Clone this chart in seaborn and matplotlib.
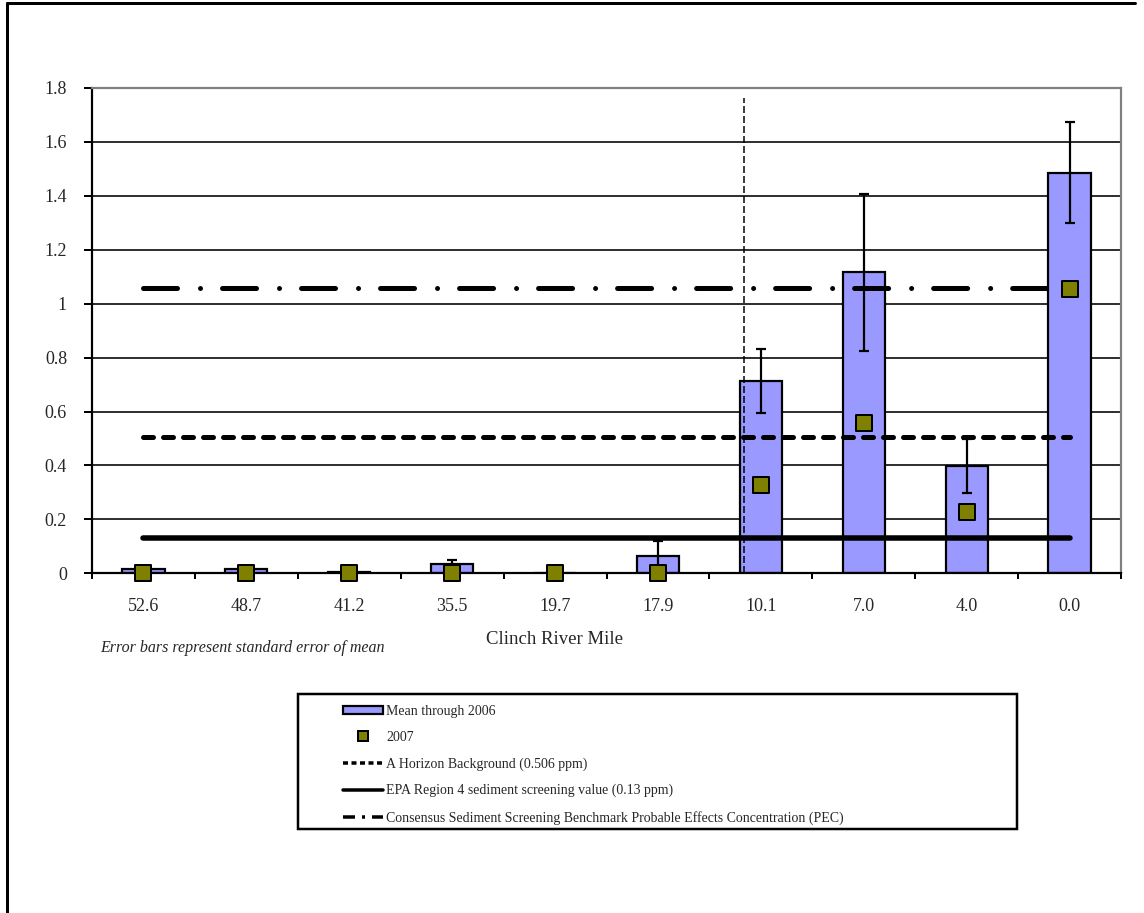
import numpy as np
import pandas as pd
import matplotlib
matplotlib.use("Agg")
import matplotlib.pyplot as plt
from matplotlib.lines import Line2D
from matplotlib.patches import Rectangle
from matplotlib.collections import PathCollection
import seaborn as sns

# Clinch River mile stations, upstream to downstream
river_miles = ["52.6", "48.7", "41.2", "35.5", "19.7", "17.9", "10.1", "7.0", "4.0", "0.0"]
# Mean concentration through 2006 (ppm) and its standard error
mean_through_2006 = [0.015, 0.017, 0.006, 0.036, 0.0, 0.064, 0.714, 1.116, 0.399, 1.486]
std_error = [0.0, 0.0, 0.0, 0.012, 0.0, 0.056, 0.118, 0.29, 0.10, 0.188]
# 2007 sample concentration (ppm)
values_2007 = [0.0, 0.0, 0.0, 0.0, 0.0, 0.0, 0.329, 0.559, 0.229, 1.055]

# Screening / background reference levels (ppm)
a_horizon_background = 0.506
epa_region4_screening = 0.13
pec_benchmark = 1.06

# Boundary marker between stations 17.9 and 10.1
boundary_position = 5.84
boundary_top = 1.764

y_ticks = [0, 0.2, 0.4, 0.6, 0.8, 1.0, 1.2, 1.4, 1.6, 1.8]
y_tick_labels = ["0", "0.2", "0.4", "0.6", "0.8", "1", "1.2", "1.4", "1.6", "1.8"]

sns.set_theme(style="white")
plt.rcParams["font.family"] = ["Liberation Serif", "DejaVu Serif"]
plt.rcParams["lines.scale_dashes"] = False

PX = 72.0 / 100.0  # points per pixel at dpi 100

fig = plt.figure(figsize=(11.44, 9.13), dpi=100)
W, H = 1144.0, 913.0
ax = fig.add_axes([92 / W, 1 - 573.3 / H, (1121 - 92) / W, (573.3 - 88) / H])

df = pd.DataFrame({"mile": river_miles, "mean": mean_through_2006,
                   "se": std_error, "y2007": values_2007})

sns.barplot(data=df, x="mile", y="mean", order=river_miles, color="#9999FF",
            saturation=1, edgecolor="black", linewidth=2.2 * PX, width=0.41,
            errorbar=None, ax=ax, zorder=2)

pos = np.arange(len(river_miles))
has_err = df["se"].to_numpy() > 0
ax.errorbar(pos[has_err], df["mean"].to_numpy()[has_err], yerr=df["se"].to_numpy()[has_err],
            fmt="none", ecolor="black", elinewidth=2.2 * PX, capsize=5 * PX,
            capthick=2.2 * PX, zorder=3)

x_span = [0, len(river_miles) - 1]
ax.plot(x_span, [a_horizon_background] * 2, color="black", lw=5 * PX,
        dashes=(10 * PX, 10 * PX), dash_capstyle="round", zorder=4)
ax.plot(x_span, [epa_region4_screening] * 2, color="black", lw=5.5 * PX,
        solid_capstyle="round", zorder=4)
ax.plot(x_span, [pec_benchmark] * 2, color="black", lw=5 * PX,
        dashes=(34 * PX, 23 * PX, 0.01, 22 * PX), dash_capstyle="round", zorder=4)

ax.plot([boundary_position] * 2, [0, boundary_top], color="black", lw=1.5 * PX,
        dashes=(7 * PX, 3 * PX), zorder=5)

sns.stripplot(data=df, x="mile", y="y2007", order=river_miles, jitter=False,
              marker="s", size=11.5, color="#808000", edgecolor="black",
              linewidth=2 * PX, ax=ax, zorder=6)
for coll in ax.collections:
    if isinstance(coll, PathCollection):
        coll.set_clip_on(False)
        coll.set_zorder(6)

ax.set_xlim(-0.5, len(river_miles) - 0.5)
ax.set_ylim(0, 1.8)
ax.set_yticks(y_ticks)
ax.set_yticklabels(y_tick_labels)
ax.set_xticks(pos)
ax.set_xticklabels(river_miles)
ax.set_xticks(np.arange(-0.5, len(river_miles)), minor=True)
ax.tick_params(axis="x", which="major", length=0, pad=18, labelsize=13)
ax.tick_params(axis="x", which="minor", length=6 * PX, width=2 * PX,
               direction="out", color="black", bottom=True)
ax.tick_params(axis="y", which="major", length=6, width=2 * PX, direction="out",
               color="black", left=True, pad=12, labelsize=13)
ax.set_xlabel("Clinch River Mile", fontsize=13.5)
ax.xaxis.label.set_va("center")
ax.xaxis.set_label_coords((554 - 92) / 1029.0, -(639 - 573.3) / 485.3)
ax.set_ylabel("")

ax.yaxis.grid(True, color="black", lw=1.6 * PX)
ax.set_axisbelow(True)
for side in ("left", "bottom"):
    ax.spines[side].set_color("black")
    ax.spines[side].set_linewidth(2.2 * PX)
for side in ("top", "right"):
    ax.spines[side].set_color("#808080")
    ax.spines[side].set_linewidth(2.2 * PX)

fig.text(100 / W, 1 - 648 / H, "Error bars represent standard error of mean",
         fontsize=11.5, style="italic", ha="left", va="center")

# Legend, framed by a separate rectangle
handles = [
    Rectangle((0, 0), 1, 1, facecolor="#9999FF", edgecolor="black", lw=2.2 * PX),
    Line2D([], [], ls="none", marker="s", markersize=7.5, markerfacecolor="#808000",
           markeredgecolor="black", markeredgewidth=2 * PX),
    Line2D([], [], color="black", lw=3.5 * PX, dashes=(5 * PX, 3.5 * PX)),
    Line2D([], [], color="black", lw=3.5 * PX),
    Line2D([], [], color="black", lw=3.5 * PX, dashes=(12 * PX, 7 * PX, 3 * PX, 7 * PX)),
]
labels = ["Mean through 2006", "2007", "A Horizon Background (0.506 ppm)",
          "EPA Region 4 sediment screening value (0.13 ppm)",
          "Consensus Sediment Screening Benchmark Probable Effects Concentration (PEC)"]
fig.legend(handles, labels, loc="upper left", bbox_to_anchor=(336 / W, 1 - 698 / H),
           frameon=False, fontsize=10, handlelength=2.9, handleheight=0.6,
           handletextpad=0.2, labelspacing=0.95, borderpad=0)
fig.add_artist(Rectangle((298 / W, 1 - 829 / H), (1017 - 298) / W, (829 - 694) / H,
                         transform=fig.transFigure, fill=False, edgecolor="black",
                         lw=2.5 * PX))

# Outer frame (top and left edges)
fig.add_artist(Line2D([7 / W, 1135 / W], [1 - 3 / H, 1 - 3 / H], transform=fig.transFigure,
                      color="black", lw=3 * PX))
fig.add_artist(Line2D([7 / W, 7 / W], [1 - 3 / H, 0], transform=fig.transFigure,
                      color="black", lw=3 * PX))

fig.savefig("out.png", dpi=100)
